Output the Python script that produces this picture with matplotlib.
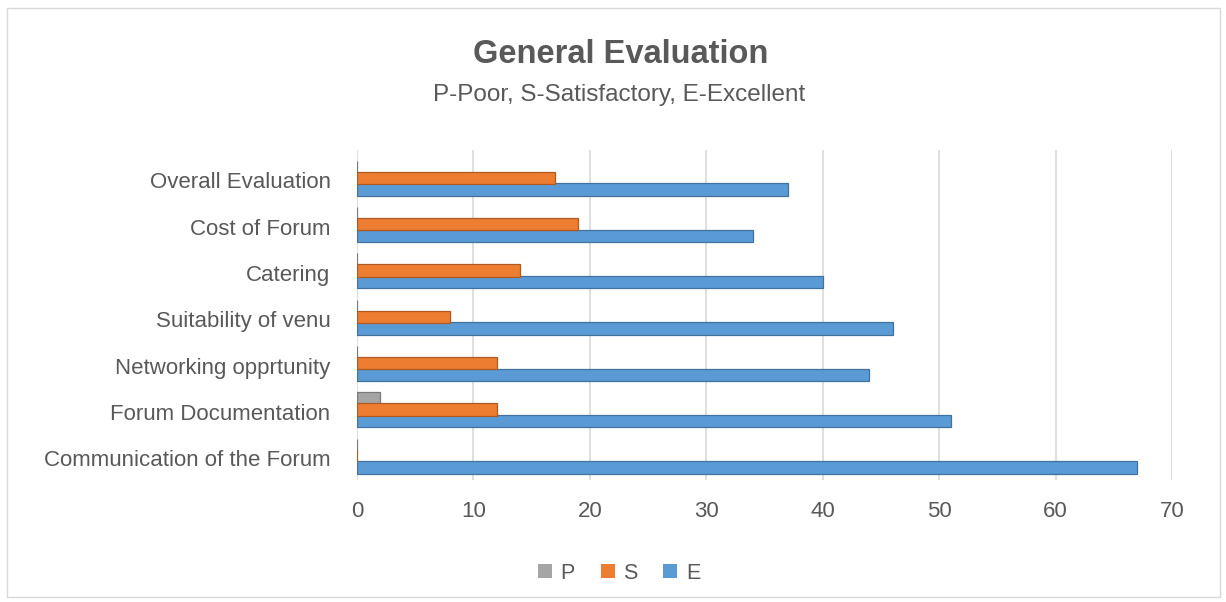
import matplotlib
matplotlib.use("Agg")
import matplotlib.pyplot as plt
from matplotlib.patches import Rectangle, Patch
import numpy as np

plt.rcParams["font.family"] = ["Liberation Sans", "DejaVu Sans"]

# data, bottom to top
categories = ["Communication of the Forum", "Forum Documentation", "Networking opprtunity",
              "Suitability of venu", "Catering", "Cost of Forum", "Overall Evaluation"]
poor = [0, 2, 0, 0, 0, 0, 0]
satisfactory = [0, 12, 12, 8, 14, 19, 17]
excellent = [67, 51, 44, 46, 40, 34, 37]
x_ticks = [0, 10, 20, 30, 40, 50, 60, 70]

text_col = "#595959"
c_p, c_s, c_e = "#a5a5a5", "#ed7d31", "#5b9bd5"

fig = plt.figure(figsize=(12.26, 6.02), dpi=100)
fig.patches.append(Rectangle((0.006, 0.008), 0.989, 0.979, transform=fig.transFigure,
                             fill=False, edgecolor="#d9d9d9", linewidth=1))

ax = fig.add_axes([0.2912, 0.2027, 0.6648, 0.548])
y = np.arange(len(categories))
h = 0.27

ax.barh(y - 0.2, excellent, height=h, color=c_e, edgecolor="#41719c", linewidth=0.9, zorder=3)
ax.barh(y + 0.05, satisfactory, height=h, color=c_s, edgecolor="#ae5a21", linewidth=0.9, zorder=4)
ax.barh(y + 0.29, poor, height=h, color=c_p, edgecolor="#7a7a7a", linewidth=0.9, zorder=2)

ax.set_xlim(0, 70)
ax.set_ylim(-0.47, 6.65)
ax.set_xticks(x_ticks)
ax.set_yticks(y)
ax.set_yticklabels(categories)
ax.grid(axis="x", color="#d9d9d9", linewidth=1.2, zorder=0)
for s in ax.spines.values():
    s.set_visible(False)
ax.tick_params(axis="both", length=0, labelsize=16, labelcolor=text_col)
ax.tick_params(axis="y", pad=19)
ax.tick_params(axis="x", pad=15)

fig.text(0.5065, 0.91, "General Evaluation", ha="center", va="center",
         fontsize=23.5, fontweight="bold", color=text_col)
fig.text(0.505, 0.843, "P-Poor, S-Satisfactory, E-Excellent", ha="center", va="center",
         fontsize=17.5, color=text_col)

handles = [Patch(facecolor=c_p), Patch(facecolor=c_s), Patch(facecolor=c_e)]
fig.legend(handles, ["P", "S", "E"], loc="center",
           bbox_to_anchor=(0.505, 0.048), ncol=3, frameon=False, fontsize=15.5,
           labelcolor=text_col, handlelength=0.65, handleheight=0.65,
           handletextpad=0.4, columnspacing=1.2)

fig.savefig("out.png", dpi=100)
